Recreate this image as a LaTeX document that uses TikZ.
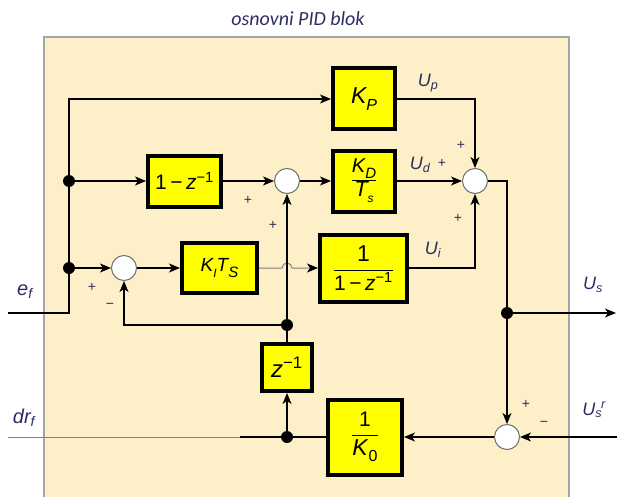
\documentclass[tikz,border=0pt]{standalone}
\usepackage{fontspec}
\setmainfont{Liberation Sans}
\newfontfamily\titlefont{Carlito}
\usetikzlibrary{arrows.meta}
\definecolor{framefill}{RGB}{253,239,199}
\definecolor{framedraw}{RGB}{165,165,165}
\definecolor{lab}{RGB}{45,45,100}
\definecolor{blk}{RGB}{255,255,0}
\newcommand{\fr}[2]{$\displaystyle\frac{\mbox{#1}}{\mbox{#2}}$}
\newcommand{\fs}[1]{\fontsize{#1}{#1}\selectfont}
\newcommand{\bsub}[2]{\raisebox{-0.28em}{\fs{#1}#2}}
\begin{document}
\begin{tikzpicture}[x=1pt,y=-1pt,
  blockbox/.style={draw=black, line width=4pt, fill=blk, inner sep=0pt, font=\itshape},
  sumnode/.style={circle, draw={rgb,255:red,110;green,110;blue,110}, fill=white, minimum size=25pt, inner sep=0pt, line width=1pt},
  dotnode/.style={circle, fill=black, minimum size=12pt, inner sep=0pt},
  sig/.style={line width=1.3pt},
  arr/.style={sig, -{Stealth[length=11pt,width=9pt,inset=3pt,color=black]}},
  lbl/.style={text=lab, font=\itshape\fontsize{18}{20}\selectfont, inner sep=0pt},
  sgn/.style={text=lab, font=\fontsize{14}{14}\selectfont, inner sep=0pt},
]
\useasboundingbox (0,0) rectangle (617,497);
% frame
\fill[framefill] (44,37) rectangle (569,497);
\draw[framedraw, line width=2pt] (44,497) -- (44,37) -- (569,37) -- (569,497);
\node[text=lab, font=\titlefont\itshape\fontsize{20}{22}\selectfont] (title) at (298,19) {osnovni PID blok};

% blocks
\node[blockbox, minimum width=62pt, minimum height=61pt, font=\itshape\fs{23}] (KP) at (364,99) {K\bsub{16}{P}};
\node[blockbox, minimum width=62pt, minimum height=61pt, font=\itshape\fs{18}] (KD) at (364,181) {\fr{\fs{20}K\bsub{15}{D}}{\fs{22}T\bsub{12}{s}}};
\node[blockbox, minimum width=87pt, minimum height=67pt, font=\fs{22}] (Int) at (363.5,268) {\fr{\fs{23}1}{\fs{21}1\,−\,\textit{z}\textsuperscript{−1}}};
\node[blockbox, minimum width=73pt, minimum height=51pt, font=\fs{21}] (Dz) at (184.5,181) {1\,−\,\textit{z}\textsuperscript{−1}};
\node[blockbox, minimum width=75pt, minimum height=50pt, font=\itshape\fs{19}] (KI) at (219.5,268) {K\bsub{12}{I}T\bsub{15}{S}};
\node[blockbox, minimum width=50pt, minimum height=47pt, font=\fs{24}] (Zb) at (287,367.5) {\textit{z}\textsuperscript{−1}};
\node[blockbox, minimum width=74pt, minimum height=75pt, font=\fs{22}] (K0) at (365,437) {\fr{\fs{21}1}{\fs{23}\textit{K}\bsub{16}{0}}};

% sums
\node[sumnode] (S1) at (287,181) {};
\node[sumnode] (S2) at (475,181) {};
\node[sumnode] (S3) at (124,268) {};
\node[sumnode] (S4) at (507,437) {};

% dots
\node[dotnode] (D1) at (69,181) {};
\node[dotnode] (D2) at (69,268) {};
\node[dotnode] (D3) at (287,325) {};
\node[dotnode] (D4) at (287,437) {};
\node[dotnode] (D5) at (507,313) {};

% coordinates
\coordinate (ein) at (8,313);
\coordinate (tl) at (69,99);
\coordinate (uout) at (616,313);
\coordinate (usr) at (617,437);
\coordinate (drmid) at (240,437);
\coordinate (drout) at (8,437);
\coordinate (hopL) at (282,268);

% connectors
\draw[arr] (ein) -| (tl) -- (KP);
\draw[arr] (D1) -- (Dz);
\draw[arr] (Dz) -- (S1);
\draw[arr] (S1) -- (KD);
\draw[arr] (D2) -- (S3);
\draw[arr] (S3) -- (KI);
\draw[arr, draw=gray, line width=1pt] (KI.east) -- (hopL) arc[start angle=180, end angle=360, radius=5] -- (Int.west);
\draw[arr] (KP) -| (S2);
\draw[arr] (KD) -- (S2);
\draw[arr] (Int) -| (S2);
\draw[sig] (S2) -| (D5);
\draw[arr] (D5) -- (S4);
\draw[arr] (D5) -- (uout);
\draw[arr] (usr) -- (S4);
\draw[arr] (S4) -- (K0);
\draw[sig] (K0) -- (D4);
\draw[sig] (D4) -- (drmid);
\draw[draw=gray, line width=1pt] (drmid) -- (drout);
\draw[arr] (D4) -- (Zb);
\draw[arr] (Zb) -- (S1);
\draw[arr] (D3) -| (S3);

% labels
\node[lbl] (lUp) at (428,83) {U\textsubscript{p}};
\node[lbl] (lUd) at (420,165) {U\textsubscript{d}};
\node[lbl] (lUi) at (433,250) {U\textsubscript{i}};
\node[lbl] (lUs) at (593,285) {U\textsubscript{s}};
\node[lbl] (lUsr) at (594,410) {U\textsubscript{s}\kern-1pt\textsuperscript{r}};
\node[lbl, font=\itshape\fontsize{20}{22}\selectfont] (lef) at (25,292) {e\textsubscript{f}};
\node[lbl, font=\itshape\fontsize{20}{22}\selectfont] (ldr) at (24,418) {dr\textsubscript{f}};

\node[sgn] (p1) at (442,163) {+};
\node[sgn] (p2) at (461,145) {+};
\node[sgn] (p3) at (458,218) {+};
\node[sgn] (p4) at (526,404) {+};
\node[sgn] (m4) at (544,424) {−};
\node[sgn] (p5) at (248,200) {+};
\node[sgn] (p6) at (273,225) {+};
\node[sgn] (p7) at (92,287) {+};
\node[sgn] (m7) at (110,306) {−};
\end{tikzpicture}
\end{document}
